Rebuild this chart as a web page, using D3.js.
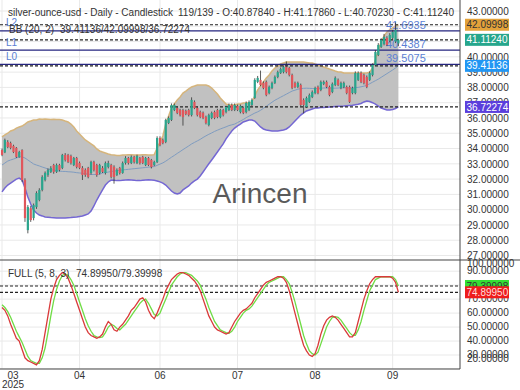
<!DOCTYPE html>
<html><head><meta charset="utf-8">
<script src="https://cdn.jsdelivr.net/npm/d3@7"></script>
<style>html,body{margin:0;padding:0;background:#fff;} svg{display:block;font-family:"Liberation Sans",Arial,sans-serif;}</style>
</head><body><svg id="c" width="520" height="390"></svg>
<script>
const opens=[33.90,33.75,34.43,34.36,34.17,34.04,33.45,33.90,31.94,28.66,
30.10,29.45,30.17,30.63,31.29,31.94,32.27,32.47,32.92,32.47,
32.92,32.73,33.58,33.58,33.51,32.92,33.38,33.05,32.73,32.60,
32.73,32.40,33.12,32.92,32.40,32.73,32.40,32.79,32.92,32.79,
32.27,32.73,32.40,33.05,33.38,33.05,33.45,33.05,33.38,33.45,
32.92,33.38,33.25,32.92,33.12,34.69,34.56,34.43,35.67,35.87,
36.52,36.65,36.52,36.52,36.46,36.52,36.19,37.05,36.65,36.39,
36.33,36.06,35.54,36.00,36.39,36.52,36.06,36.52,36.39,36.52,
36.85,36.52,36.78,36.39,36.65,36.39,36.52,36.85,37.31,38.36,
38.49,38.29,38.36,37.63,37.96,38.29,38.68,38.94,39.00,39.34,
39.27,38.81,38.29,38.03,38.16,37.18,36.72,37.05,37.37,37.63,
38.03,37.83,38.23,38.36,38.03,37.70,38.16,38.49,37.96,38.03,
38.03,38.03,37.63,37.63,38.49,38.94,38.81,38.68,38.49,38.81,
39.47,40.12,40.65,40.84,41.24,41.04,41.24,41.00,40.8784];
const closes=[33.58,34.56,34.10,34.04,33.77,33.45,33.77,31.94,29.45,30.17,
29.32,30.30,31.09,31.29,32.14,32.40,32.60,32.73,32.47,32.92,
32.60,33.58,33.25,33.12,33.05,33.38,32.79,32.73,32.27,32.27,
32.14,33.12,32.60,32.27,32.92,32.47,33.05,33.05,32.14,32.14,
32.60,32.40,33.05,33.38,33.05,33.45,33.12,33.51,33.05,33.05,
33.38,32.92,32.79,33.12,34.69,34.23,34.36,35.87,36.00,36.85,
36.85,36.33,36.19,36.06,36.26,36.19,37.18,36.65,36.19,36.06,
36.00,35.67,36.19,36.33,36.00,36.06,36.52,36.19,36.72,36.85,
36.52,36.85,36.52,36.78,36.33,36.98,37.05,37.18,38.49,38.62,
38.16,37.96,37.50,38.03,38.29,38.68,39.00,39.20,39.34,39.00,
38.81,37.96,38.03,38.29,36.85,36.85,37.31,37.50,37.70,37.96,
37.63,38.36,38.36,38.03,37.50,38.23,38.62,38.16,38.29,38.29,
37.63,37.05,37.96,38.94,38.94,38.36,38.29,38.03,38.94,39.47,
40.32,40.78,41.11,41.30,40.78,41.43,41.63,41.76,41.1124];
const highs=[34.00,34.65,34.55,34.45,34.25,34.10,33.85,33.95,32.05,30.30,
30.25,30.40,31.20,31.40,32.25,32.50,32.70,32.85,33.00,33.02,
33.00,33.65,33.70,33.65,33.60,33.45,33.45,33.15,32.85,32.70,
32.80,33.20,33.20,33.00,33.00,32.85,33.15,33.20,33.00,32.90,
32.70,32.80,33.15,33.50,33.45,33.55,33.52,33.60,33.45,33.52,
33.45,33.45,33.32,33.20,34.80,34.80,34.65,35.95,36.10,36.95,
36.95,36.75,36.60,36.60,36.55,36.60,37.35,37.15,36.75,36.48,
36.42,36.15,36.28,36.42,36.48,36.60,36.60,36.60,36.80,36.95,
36.95,36.95,36.88,36.88,36.75,37.08,37.15,37.28,38.60,38.75,
39.10,38.40,38.45,38.12,38.38,38.78,39.10,39.30,39.45,39.70,
39.35,38.90,38.38,38.38,38.25,37.28,37.40,37.60,37.80,38.05,
38.12,38.45,38.45,38.45,38.12,38.32,38.72,38.58,38.38,38.38,
38.12,38.12,38.05,39.05,39.05,39.05,38.90,38.78,39.05,39.58,
40.45,40.90,41.22,41.50,41.35,41.55,41.75,42.25,41.1786];
const lows=[33.50,33.70,34.02,33.95,33.70,33.38,33.40,31.80,29.20,28.45,
29.20,29.30,30.05,30.55,31.20,31.85,32.15,32.40,32.35,32.40,
32.50,32.65,33.15,33.05,32.95,32.85,32.70,32.65,31.94,32.15,
32.05,32.30,32.50,32.15,32.30,32.40,32.30,32.70,32.05,31.70,
32.20,32.30,32.35,32.95,32.95,32.98,33.02,32.98,32.95,32.98,
32.85,32.85,32.70,32.85,33.05,34.15,34.28,34.35,35.60,35.80,
36.45,36.25,36.10,35.50,36.18,36.10,36.10,36.58,36.10,35.98,
35.92,35.58,35.45,35.92,35.92,35.98,35.98,36.10,36.30,36.45,
36.45,36.45,36.45,36.30,36.25,36.30,36.45,36.78,37.25,38.28,
38.08,37.88,37.42,37.55,37.88,38.22,38.60,38.88,38.92,38.92,
38.72,37.88,37.95,37.95,36.78,36.30,36.65,36.98,37.30,37.55,
37.55,37.75,38.15,37.95,37.42,37.62,38.08,38.08,37.88,37.95,
37.55,36.98,37.55,37.55,38.42,38.28,38.20,37.95,38.42,38.72,
39.40,40.05,40.58,40.75,40.70,40.95,41.15,40.90,40.7023];
const bbUpper=[34.76,34.89,35.00,35.15,35.21,35.34,35.41,35.47,35.60,35.74,
35.80,35.87,35.87,35.93,35.92,35.93,35.92,35.90,35.92,35.90,
35.90,35.87,35.80,35.74,35.60,35.41,35.15,34.95,34.76,34.56,
34.43,34.30,34.17,33.97,33.84,33.77,33.71,33.64,33.60,33.58,
33.55,33.55,33.57,33.58,33.60,33.60,33.58,33.57,33.58,33.60,
33.60,33.58,33.57,33.60,34.03,34.43,34.82,35.60,36.13,36.65,
36.91,37.18,37.37,37.63,37.76,37.90,38.03,38.09,38.16,38.16,
38.16,38.16,38.09,37.96,37.76,37.57,37.31,37.11,36.91,36.85,
36.85,36.85,36.91,36.91,36.98,36.98,36.98,37.05,37.44,37.83,
38.09,38.36,38.62,38.81,39.07,39.27,39.40,39.53,39.60,39.66,
39.66,39.66,39.66,39.66,39.66,39.66,39.63,39.60,39.60,39.53,
39.47,39.40,39.34,39.27,39.20,39.14,39.07,39.01,39.01,38.94,
38.94,38.94,38.94,38.94,38.94,38.94,38.94,38.94,39.00,39.27,
39.80,40.45,40.97,41.36,41.63,41.76,41.89,42.02,42.09998];
const bbMiddle=[32.92,33.05,33.18,33.25,33.31,33.38,33.45,33.45,33.38,33.25,
33.12,32.99,32.92,32.86,32.79,32.73,32.66,32.60,32.60,32.55,
32.53,32.50,32.50,32.48,32.47,32.45,32.42,32.40,32.38,32.35,
32.33,32.30,32.30,32.30,32.33,32.40,32.43,32.46,32.50,32.52,
32.55,32.58,32.60,32.62,32.64,32.66,32.68,32.70,32.72,32.74,
32.76,32.78,32.80,32.82,32.90,32.98,33.06,33.17,33.30,33.43,
33.55,33.68,33.80,33.93,34.05,34.17,34.30,34.40,34.50,34.60,
34.72,34.83,34.93,35.02,35.12,35.20,35.28,35.35,35.42,35.50,
35.55,35.60,35.70,35.80,35.90,36.02,36.12,36.22,36.32,36.40,
36.50,36.63,36.76,36.90,37.03,37.16,37.26,37.36,37.46,37.56,
37.66,37.76,37.82,37.88,37.92,37.94,37.95,37.94,37.93,37.92,
37.93,37.95,37.96,37.97,37.96,37.95,37.95,37.96,37.97,37.98,
37.97,37.96,37.97,37.99,38.00,38.04,38.08,38.14,38.24,38.34,
38.44,38.54,38.66,38.78,38.90,39.02,39.14,39.27,39.41136];
const bbLower=[31.16,31.42,31.61,31.74,31.87,32.00,32.07,31.94,31.42,30.83,
30.37,29.98,29.78,29.65,29.59,29.52,29.50,29.48,29.47,29.46,
29.45,29.45,29.46,29.47,29.48,29.50,29.52,29.55,29.58,29.65,
29.72,29.91,30.24,30.63,30.96,31.29,31.61,31.81,31.94,31.92,
31.90,31.90,31.92,31.94,31.95,31.94,31.92,31.90,31.90,31.92,
31.94,31.95,31.94,31.92,31.88,31.82,31.74,31.61,31.42,31.22,
31.09,31.02,31.09,31.29,31.42,31.55,31.74,31.88,32.00,32.20,
32.46,32.73,33.00,33.25,33.51,33.77,34.04,34.30,34.63,34.89,
35.15,35.34,35.48,35.60,35.74,35.80,35.87,35.87,35.80,35.60,
35.41,35.28,35.21,35.18,35.15,35.15,35.15,35.18,35.21,35.28,
35.41,35.60,35.80,36.00,36.19,36.33,36.46,36.52,36.59,36.65,
36.66,36.68,36.68,36.70,36.72,36.74,36.75,36.76,36.77,36.78,
36.80,36.82,36.84,36.87,36.90,36.95,37.05,37.11,37.08,37.00,
36.91,36.78,36.65,36.59,36.52,36.52,36.55,36.62,36.72274];
const stochK=[64,62,58,52,47,42,40,34,28,26,
25,24,23,26,34,46,58,70,78,84,
87,89,88,85,80,74,68,62,56,50,
46,44,43,42,43,45,50,54,52,48,
47,50,52,55,58,62,64,67,70,71,
68,62,58,56,60,65,70,76,80,84,
86,88,89,89,88,87,85,83,80,76,
70,64,58,54,50,48,47,46,45,46,
50,54,57,60,62,63,65,67,71,74,
77,80,82,83,84,85,86,86,85,82,
76,68,60,52,44,37,33,30,29,31,
37,45,51,55,57,58,57,55,52,49,
46,43,43,46,54,62,70,76,81,84,
86,86,86,86,86,86,85,82,74.8995];
const stochD=[66,64,61,57,52,47,43,39,34,29,
26,25,24,24,28,35,46,58,69,77,
83,87,88,87,84,80,74,68,62,56,
51,47,44,43,42.5,43,46,50,52,51,
49,48,50,52,55,58,61,64,67,69,
70,67,63,59,58,60,65,70,75,80,
83,86,88,89,89,88,87,85,83,80,
75,70,64,59,54,51,48,47,46,45.5,
47,50,54,57,60,62,63,65,68,71,
74,77,80,82,83,84,85,86,86,84,
81,75,68,60,52,44,38,33,31,30,
32,38,44,50,54,57,57.5,57,55,52,
49,46,44,44,48,54,62,69,76,80,
84,85,86,86,86,86,86,84,79.39998];
const priceTicks=[27,28,29,30,31,32,33,34,35,36,37,38,39,40,41,42,43];
const stochTicks=[20,30,40,50,60,70,80,90,100];
const xTickBars=[0,27,55,82,109,136];
const xTickLabels=["03","04","06","07","08","09"];
const xYearLabel="2025";
const levelNames=["L2","L1","L0"];
const levelValues=[41.6935,40.4387,39.5075];
const headerTitle="silver-ounce-usd - Daily - Candlestick";
const headerOHLC="119/139 - O:40.87840 - H:41.17860 - L:40.70230 - C:41.11240";
const bbTitle="BB (20, 2)";
const stochTitle="FULL (5, 8, 3)";
const watermark="Arincen";

const W=460, MAIN_TOP=0, MAIN_BOT=260, LOW_BOT=369;
const FS="10px";
const n=closes.length;
const svg=d3.select("#c");
const x=d3.scaleLinear().domain([0,n-1]).range([2,398.4]);
const yP=d3.scaleLinear().domain([27,43]).range([255.5,11]);
const yS=d3.scaleLinear().domain([20,98]).range([369,260]);
const f5=d3.format(".5f");

const defs=svg.append("defs");
defs.append("clipPath").attr("id","cm").append("rect").attr("x",0).attr("y",MAIN_TOP).attr("width",W).attr("height",MAIN_BOT-MAIN_TOP);
defs.append("clipPath").attr("id","cl").append("rect").attr("x",0).attr("y",MAIN_BOT).attr("width",W).attr("height",LOW_BOT-MAIN_BOT);

const gm=svg.append("g").attr("clip-path","url(#cm)");
const gl=svg.append("g").attr("clip-path","url(#cl)");
const gridC="#e9e9e9";
gm.selectAll(".hg").data(priceTicks).enter().append("line").attr("x1",0).attr("x2",W)
  .attr("y1",d=>yP(d)).attr("y2",d=>yP(d)).attr("stroke",gridC);
gl.selectAll(".hg").data(stochTicks).enter().append("line").attr("x1",0).attr("x2",W)
  .attr("y1",d=>yS(d)).attr("y2",d=>yS(d)).attr("stroke",gridC);
[gm,gl].forEach(g=>g.selectAll(".vg").data(xTickBars).enter().append("line")
  .attr("x1",d=>x(d)).attr("x2",d=>x(d)).attr("y1",0).attr("y2",LOW_BOT).attr("stroke",gridC));

const idx=d3.range(n);
gm.append("path").datum(idx).attr("fill","#c1c1c1")
  .attr("d",d3.area().x(i=>x(i)).y0(i=>yP(bbLower[i])).y1(i=>yP(bbUpper[i])));
gm.append("path").datum(idx).attr("fill","none").attr("stroke","#7f9cc0").attr("stroke-width",1)
  .attr("d",d3.line().x(i=>x(i)).y(i=>yP(bbMiddle[i])));
gm.append("path").datum(idx).attr("fill","none").attr("stroke","#d6b57c").attr("stroke-width",1.5)
  .attr("d",d3.line().x(i=>x(i)).y(i=>yP(bbUpper[i])));
gm.append("path").datum(idx).attr("fill","none").attr("stroke","#7467d3").attr("stroke-width",1.5)
  .attr("d",d3.line().x(i=>x(i)).y(i=>yP(bbLower[i])));

const last=n-1;
const dashVals=[bbUpper[last],closes[last],bbMiddle[last],bbLower[last]];
gm.selectAll(".dl").data(dashVals).enter().append("line").attr("x1",0).attr("x2",W)
  .attr("y1",d=>yP(d)).attr("y2",d=>yP(d)).attr("stroke","#222").attr("stroke-width",1.2).attr("stroke-dasharray","3,2");
gm.selectAll(".lv").data(levelValues).enter().append("line").attr("x1",0).attr("x2",W)
  .attr("y1",d=>yP(d)).attr("y2",d=>yP(d)).attr("stroke","#25257f").attr("stroke-width",1.2);
gm.selectAll(".lvn").data(levelValues).enter().append("text").attr("x",6).attr("y",d=>yP(d)-4.5)
  .attr("font-size","10px").attr("fill","#5b7fd4").text((d,i)=>levelNames[i]);
gm.selectAll(".lvv").data(levelValues).enter().append("text").attr("x",386).attr("y",d=>yP(d)-2)
  .attr("font-size","11px").attr("fill","#5b7fd4").text(d=>d.toFixed(4));

const up="#2aa58d", dn="#e0565b";
const cg=gm.append("g");
idx.forEach(i=>{
  const col=closes[i]>=opens[i]?up:dn;
  cg.append("line").attr("x1",x(i)).attr("x2",x(i)).attr("y1",yP(highs[i])).attr("y2",yP(lows[i]))
    .attr("stroke","#333").attr("stroke-width",0.8);
  const t=yP(Math.max(opens[i],closes[i])), b=yP(Math.min(opens[i],closes[i]));
  cg.append("rect").attr("x",x(i)-1.1).attr("width",2.2).attr("y",t).attr("height",Math.max(1,b-t)).attr("fill",col);
});

gl.selectAll(".sd").data([stochD[last],stochK[last]]).enter().append("line").attr("x1",0).attr("x2",W)
  .attr("y1",d=>yS(d)).attr("y2",d=>yS(d)).attr("stroke","#222").attr("stroke-width",1.2).attr("stroke-dasharray","3,2");
gl.append("path").datum(idx).attr("fill","none").attr("stroke","#6fdc45").attr("stroke-width",1.3)
  .attr("d",d3.line().x(i=>x(i)).y(i=>yS(stochD[i])));
gl.append("path").datum(idx).attr("fill","none").attr("stroke","#d93a3a").attr("stroke-width",1.3)
  .attr("d",d3.line().x(i=>x(i)).y(i=>yS(stochK[i])));

svg.append("text").attr("x",8).attr("y",16).attr("font-size",FS).attr("fill","#333").text(headerTitle);
svg.append("text").attr("x",178).attr("y",16).attr("font-size",FS).attr("fill","#333").text(headerOHLC);
svg.append("text").attr("x",9).attr("y",33).attr("font-size",FS).attr("fill","#333").text(bbTitle);
svg.append("text").attr("x",60).attr("y",33).attr("font-size",FS).attr("fill","#333")
  .text(f5(bbMiddle[last])+"/"+f5(bbUpper[last])+"/"+f5(bbLower[last]));
svg.append("text").attr("x",8).attr("y",277).attr("font-size",FS).attr("fill","#333").text(stochTitle);
svg.append("text").attr("x",76).attr("y",277).attr("font-size",FS).attr("fill","#333")
  .text(f5(stochK[last])+"/"+f5(stochD[last]));
svg.append("text").attr("x",260).attr("y",203).attr("text-anchor","middle").attr("font-size","28px").attr("fill","#5a5a5a").text(watermark);

svg.append("line").attr("x1",0).attr("x2",520).attr("y1",MAIN_BOT).attr("y2",MAIN_BOT).attr("stroke","#444");
svg.append("line").attr("x1",W).attr("x2",W).attr("y1",0).attr("y2",LOW_BOT).attr("stroke","#444");
svg.append("line").attr("x1",0).attr("x2",W).attr("y1",LOW_BOT).attr("y2",LOW_BOT).attr("stroke","#444");

function styleAxis(g){g.select(".domain").remove();g.selectAll("text").attr("font-size",FS).attr("fill","#333").attr("font-family","Liberation Sans, Arial, sans-serif");}
const ap=svg.append("g").attr("transform","translate(467,0)")
  .call(d3.axisRight(yP).tickValues(priceTicks).tickFormat(f5).tickSize(0).tickPadding(0));
styleAxis(ap);
const as=svg.append("g").attr("transform","translate(467,0)")
  .call(d3.axisRight(yS).tickValues(stochTicks).tickFormat(f5).tickSize(0).tickPadding(0));
styleAxis(as);
as.selectAll(".tick").attr("transform",d=>"translate(0,"+Math.min(359,Math.max(264,yS(d)))+")");
const ax=svg.append("g").attr("transform","translate(0,"+LOW_BOT+")")
  .call(d3.axisBottom(x).tickValues(xTickBars).tickFormat((d,i)=>xTickLabels[i]).tickSize(0).tickPadding(3));
styleAxis(ax);
ax.selectAll(".tick").attr("transform",d=>"translate("+Math.max(13,x(d))+",0)");
svg.append("text").attr("x",13).attr("y",388).attr("text-anchor","middle").attr("font-size",FS).attr("fill","#333").text(xYearLabel);

function tag(v,scale,bg,fg){
  const y=scale(v);
  const g=svg.append("g");
  g.append("rect").attr("x",465).attr("y",y-6).attr("width",44).attr("height",12).attr("fill",bg);
  g.append("text").attr("x",466.5).attr("y",y+3.6).attr("font-size",FS).attr("fill",fg).text(f5(v));
}
tag(bbUpper[last],yP,"#e3a23a","#333");
tag(closes[last],yP,"#26a68c","#fff");
tag(bbMiddle[last],yP,"#2196f3","#fff");
tag(bbLower[last],yP,"#5b3fdc","#fff");
tag(stochD[last],yS,"#33e033","#333");
tag(stochK[last],yS,"#ee1c1c","#ffdede");
</script></body></html>
